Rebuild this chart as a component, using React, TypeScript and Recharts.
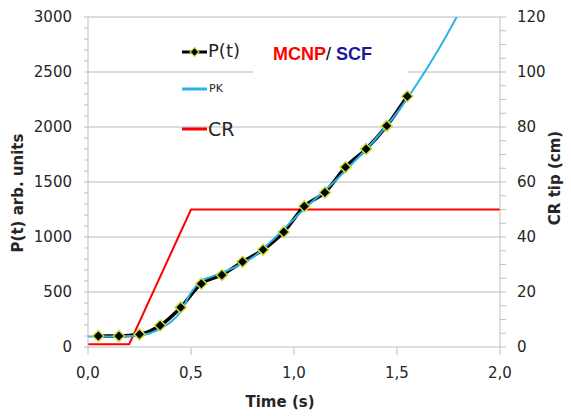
import { ComposedChart, Line, XAxis, YAxis, ReferenceLine } from "recharts";

// P(t) MCNP/SCF points
const pTimes = [0.05, 0.15, 0.25, 0.35, 0.45, 0.55, 0.65, 0.75, 0.85, 0.95, 1.05, 1.15, 1.25, 1.35, 1.45, 1.55];
const pValues = [100, 100, 115, 195, 360, 575, 655, 775, 885, 1045, 1280, 1405, 1635, 1800, 2010, 2280];

// point-kinetics curve
const pkTimes = [0, 0.1, 0.2, 0.25, 0.3, 0.35, 0.4, 0.45, 0.5, 0.55, 0.6, 0.7, 0.8, 0.9, 1.0, 1.1, 1.2, 1.3, 1.4, 1.5, 1.6, 1.7, 1.79];
const pkValues = [95, 95, 100, 105, 125, 165, 225, 320, 495, 600, 640, 715, 815, 980, 1165, 1340, 1510, 1700, 1900, 2130, 2400, 2700, 3000];

// control rod tip (cm), right axis
const crTimes = [0, 0.2, 0.5, 2.0];
const crValues = [1, 1, 50, 50];

const xTicks = [0, 0.5, 1, 1.5, 2];
const leftTicks = Array.from({ length: 31 }, (_, i) => i * 100);
const rightTicks = Array.from({ length: 25 }, (_, i) => i * 5);
const gridValues = [500, 1000, 1500, 2000, 2500, 3000];

const pData = pTimes.map((t, i) => ({ t, v: pValues[i] }));
const pkData = pkTimes.map((t, i) => ({ t, v: pkValues[i] }));
const crData = crTimes.map((t, i) => ({ t, v: crValues[i] }));

const AXIS = "#bfbfbf";
const GRID = "#d0d0d0";
const TEXT = "#262626";
const FONT = "'DejaVu Sans', Verdana, sans-serif";

function DiamondDot(props: any) {
  const { cx, cy, index } = props;
  if (cx == null || cy == null) return null;
  const r = 5.5;
  return (
    <path
      key={`d-${index}`}
      d={`M${cx},${cy - r} L${cx + r},${cy} L${cx},${cy + r} L${cx - r},${cy} Z`}
      fill="#000"
      stroke="#c6dc3a"
      strokeWidth={1.5}
    />
  );
}

export default function App() {
  const tickStyle = { fontSize: 15, fill: TEXT, fontFamily: FONT };
  return (
    <div style={{ position: "absolute", left: 0, top: 0, width: 571, height: 416, background: "#fff", fontFamily: FONT }}>
      <ComposedChart width={571} height={416} margin={{ top: 17, right: 0, bottom: 0, left: 0 }}>
        <XAxis
          dataKey="t"
          type="number"
          domain={[0, 2]}
          ticks={xTicks}
          height={69}
          stroke={AXIS}
          tickSize={8}
          tickMargin={12}
          tick={tickStyle}
          tickFormatter={(v: number) => v.toFixed(1).replace(".", ",")}
        />
        <YAxis
          yAxisId="left"
          orientation="left"
          width={88}
          domain={[0, 3000]}
          ticks={leftTicks}
          interval={0}
          allowDataOverflow
          stroke={AXIS}
          tickSize={4}
          tickMargin={12}
          tick={tickStyle}
          tickFormatter={(v: number) => (v % 500 === 0 ? String(v) : "")}
        />
        <YAxis
          yAxisId="right"
          orientation="right"
          width={71}
          domain={[0, 120]}
          ticks={rightTicks}
          interval={0}
          stroke={AXIS}
          tickSize={6}
          tickMargin={11}
          tick={tickStyle}
          tickFormatter={(v: number) => (v % 20 === 0 ? String(v) : "")}
        />
        {gridValues.map((g) => (
          <ReferenceLine key={g} yAxisId="left" y={g} stroke={GRID} strokeWidth={1.5} />
        ))}
        <Line
          yAxisId="right"
          data={crData}
          dataKey="v"
          type="linear"
          stroke="#ff0000"
          strokeWidth={2}
          dot={false}
          isAnimationActive={false}
        />
        <Line
          yAxisId="left"
          data={pData}
          dataKey="v"
          type="monotone"
          stroke="#000"
          strokeWidth={3.5}
          dot={DiamondDot}
          isAnimationActive={false}
        />
        <Line
          yAxisId="left"
          data={pkData}
          dataKey="v"
          type="monotone"
          stroke="#29b4e6"
          strokeWidth={2}
          dot={false}
          isAnimationActive={false}
        />
      </ComposedChart>

      {/* white box behind the title, hides the grid line */}
      <div style={{ position: "absolute", left: 253, top: 36, width: 155, height: 38, background: "#fff" }} />
      <div style={{ position: "absolute", left: 273, top: 44, fontFamily: "'Liberation Sans', Arial, sans-serif", fontSize: 18, fontWeight: "bold", whiteSpace: "nowrap" }}>
        <span style={{ color: "#ff0000" }}>MCNP</span>
        <span style={{ color: "#000", fontWeight: "normal" }}>/ </span>
        <span style={{ color: "#1a1a9a" }}>SCF</span>
      </div>

      {/* legend */}
      <svg style={{ position: "absolute", left: 180, top: 40 }} width={30} height={100}>
        <line x1={2} x2={27} y1={12} y2={12} stroke="#000" strokeWidth={3} />
        <path d="M14.5,7.5 L19,12 L14.5,16.5 L10,12 Z" fill="#000" stroke="#c6dc3a" strokeWidth={1.2} />
        <line x1={2} x2={27} y1={49} y2={49} stroke="#29b4e6" strokeWidth={3} />
        <line x1={2} x2={27} y1={89} y2={89} stroke="#ff0000" strokeWidth={3} />
      </svg>
      <div style={{ position: "absolute", left: 208, top: 40, fontSize: 18, color: TEXT }}>P(t)</div>
      <div style={{ position: "absolute", left: 209, top: 82, fontSize: 11, color: TEXT }}>PK</div>
      <div style={{ position: "absolute", left: 208, top: 118, fontSize: 19, color: TEXT }}>CR</div>

      {/* axis titles */}
      <div
        style={{
          position: "absolute",
          left: 18,
          top: 193,
          transform: "translate(-50%, -50%) rotate(-90deg)",
          fontSize: 15,
          fontWeight: "bold",
          color: TEXT,
          whiteSpace: "nowrap",
        }}
      >
        P(t) arb. units
      </div>
      <div
        style={{
          position: "absolute",
          left: 555,
          top: 178,
          transform: "translate(-50%, -50%) rotate(-90deg)",
          fontSize: 15,
          fontWeight: "bold",
          color: TEXT,
          whiteSpace: "nowrap",
        }}
      >
        CR tip (cm)
      </div>
      <div
        style={{
          position: "absolute",
          left: 280,
          top: 402,
          transform: "translate(-50%, -50%)",
          fontSize: 15,
          fontWeight: "bold",
          color: TEXT,
          whiteSpace: "nowrap",
        }}
      >
        Time (s)
      </div>
    </div>
  );
}
